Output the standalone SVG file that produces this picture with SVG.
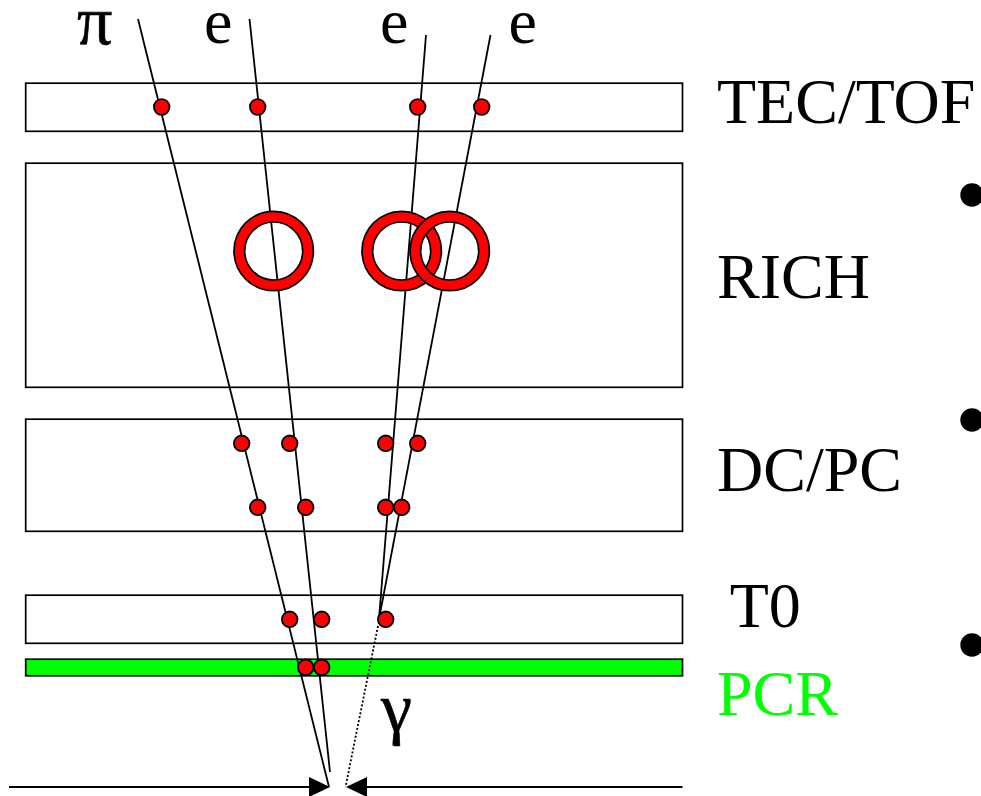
<svg xmlns="http://www.w3.org/2000/svg" width="981" height="796" viewBox="0 0 981 796">
<style>
.box{fill:#fff;stroke:#000;stroke-width:1.7}
.trk{fill:none;stroke:#000;stroke-width:1.8}
.hit{fill:#f00;stroke:#000;stroke-width:1.8}
.ring{fill:#f00;fill-rule:evenodd;stroke:#000;stroke-width:1.7}
.bul{fill:#000}
.gk{font-size:70px;stroke:#000;stroke-width:.6}
text{font-family:"Liberation Serif","Times New Roman",serif;font-size:64px;fill:#000}
</style>
<defs>
<path id="r" class="ring" d="M-39.7 0A39.7 39.7 0 1 1 39.7 0A39.7 39.7 0 1 1 -39.7 0ZM-29 0A29 29 0 1 0 29 0A29 29 0 1 0 -29 0Z"/>
<circle id="h" class="hit" r="7.8"/>
</defs>
<rect width="981" height="796" fill="#fff"/>
<g id="tec-tof"><rect class="box" x="25.7" y="83.2" width="656.8" height="48.1"/><text x="717" y="122.5">TEC/TOF</text></g>
<g id="rich"><rect class="box" x="25.7" y="163.2" width="656.8" height="224.1"/><text x="717" y="298">RICH</text></g>
<g id="dc-pc"><rect class="box" x="25.7" y="419.2" width="656.8" height="112.1"/><text x="717" y="491">DC/PC</text></g>
<g id="t0"><rect class="box" x="25.7" y="595.2" width="656.8" height="48.1"/><text x="729.7" y="627">T0</text></g>
<g id="pcr"><rect class="box" style="fill:#0f0" x="25.7" y="659.2" width="656.8" height="16.6"/><text x="717" y="715" style="fill:#0f0">PCR</text></g>
<g id="connectors">
<line class="trk" x1="138" y1="19" x2="329" y2="787"/>
<line class="trk" x1="249.5" y1="19" x2="330" y2="772"/>
<line class="trk" x1="426" y1="35" x2="379" y2="619"/>
<line class="trk" x1="490.5" y1="35" x2="379" y2="619"/>
<line class="trk" x1="378" y1="626" x2="345.5" y2="787" stroke-dasharray="2 2"/>
<line class="trk" x1="9" y1="787" x2="312" y2="787"/>
<line class="trk" x1="364" y1="787" x2="682.5" y2="787"/>
<polygon points="309,777 330,787 309,797" fill="#000"/>
<polygon points="367,777 346,787 367,797" fill="#000"/>
</g>
<g id="rings"><use href="#r" x="273.7" y="251"/><use href="#r" x="401.7" y="251"/><use href="#r" x="449.7" y="251"/></g>
<g id="hits">
<use href="#h" x="161.7" y="107"/><use href="#h" x="257.7" y="107"/><use href="#h" x="417.7" y="107"/><use href="#h" x="481.7" y="107"/>
<use href="#h" x="241.7" y="443.3"/><use href="#h" x="289.7" y="443.3"/><use href="#h" x="385.7" y="443.3"/><use href="#h" x="417.7" y="443.3"/>
<use href="#h" x="257.7" y="507.3"/><use href="#h" x="305.7" y="507.3"/><use href="#h" x="385.7" y="507.3"/><use href="#h" x="401.7" y="507.3"/>
<use href="#h" x="289.7" y="619.3"/><use href="#h" x="321.7" y="619.3"/><use href="#h" x="385.7" y="619.3"/>
<use href="#h" x="305.7" y="667.3"/><use href="#h" x="321.7" y="667.3"/>
</g>
<g id="labels">
<text x="77" y="44" class="gk">π</text><text x="204" y="42.7">e</text><text x="380" y="42.7">e</text><text x="508.4" y="42.7">e</text><text x="381" y="731" class="gk">γ</text>
</g>
<g id="bullets"><circle class="bul" cx="972" cy="195" r="11.7"/><circle class="bul" cx="972" cy="420" r="11.7"/><circle class="bul" cx="972" cy="645" r="11.7"/></g>
</svg>
